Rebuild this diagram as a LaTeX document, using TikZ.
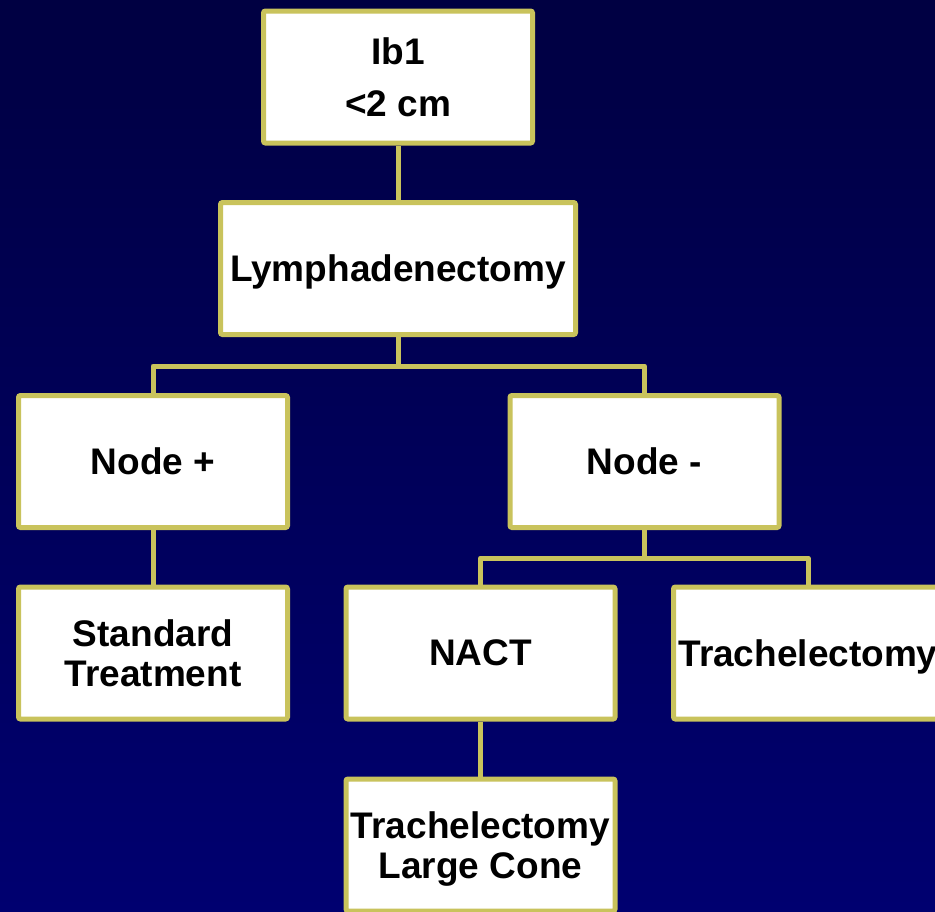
\documentclass[tikz,border=0pt]{standalone}
\usepackage{fontspec}
\setmainfont{Liberation Sans}
\usetikzlibrary{calc}
\definecolor{navyTop}{HTML}{000042}
\definecolor{navyBot}{HTML}{000070}
\definecolor{oliva}{HTML}{C9C35C}

\begin{document}
\begin{tikzpicture}[x=1pt,y=-1pt,
  caja/.style={draw=oliva,line width=5pt,fill=white,rounded corners=2pt,
    minimum width=269pt,minimum height=132pt,align=center,inner sep=0pt,
    text depth=0pt,font=\fontsize{37}{40}\selectfont\bfseries},
  enlace/.style={draw=oliva,line width=5pt}]
  \useasboundingbox (0,0) rectangle (935,911);
  \clip (0,0) rectangle (935,911);
  \shade[top color=navyTop,bottom color=navyBot] (0,0) rectangle (935,911);
  % niveles de los nodos
  \node[caja] (ib1) at (398,77) {Ib1\\[12pt]<2 cm};
  \node[caja,minimum width=355pt] (linfa) at (398,268.5) {Lymphadenectomy};
  \node[caja] (nodop) at (153,461.5) {Node +};
  \node[caja] (nodom) at (644.5,461.5) {Node -};
  \node[caja] (estandar) at (153,653) {Standard\\Treatment};
  \node[caja] (nact) at (480.5,653) {NACT};
  \node[caja] (traq) at (808,653) {Trachelectomy};
  \node[caja] (cono) at (480.5,845) {Trachelectomy\\Large Cone};
  % conectores
  \draw[enlace] (ib1) -- (linfa);
  \draw[enlace,line join=round] (linfa.south) -- ++(0,29) -| (nodop.north);
  \draw[enlace,line join=round] (linfa.south) -- ++(0,29) -| (nodom.north);
  \draw[enlace] (nodop) -- (estandar);
  \draw[enlace,line join=round] (nodom.south) -- ++(0,28) -| (nact.north);
  \draw[enlace,line join=round] (nodom.south) -- ++(0,28) -| (traq.north);
  \draw[enlace] (nact) -- (cono);
\end{tikzpicture}
\end{document}
